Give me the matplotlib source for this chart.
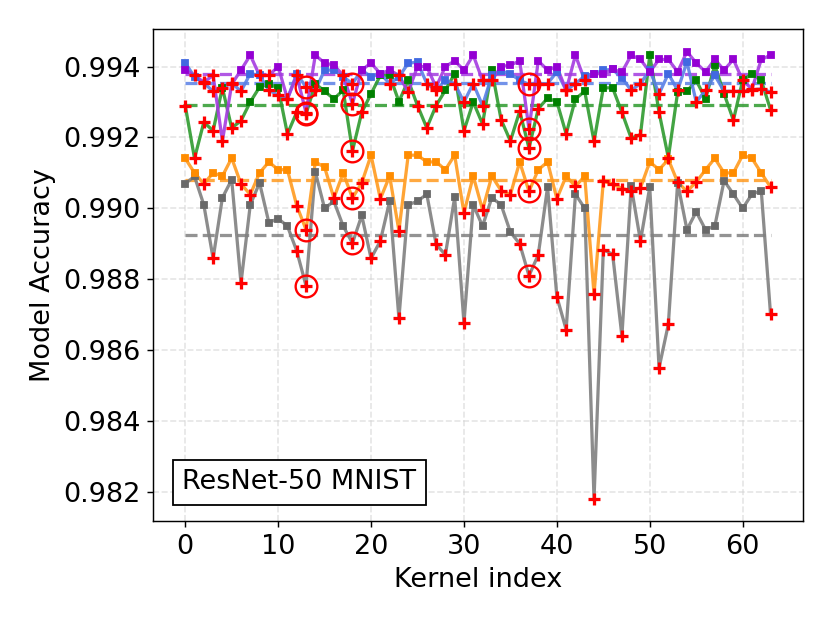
import numpy as np
import matplotlib
matplotlib.use('Agg')
import matplotlib.pyplot as plt

kernel_idx = np.arange(64)

# accuracy per kernel
acc_gray = [0.9907, 0.9909, 0.9901, 0.98859, 0.9903, 0.99081, 0.98789, 0.9901, 0.99072, 0.9896,
            0.98971, 0.9895, 0.9888, 0.98782, 0.99103, 0.9900, 0.9902, 0.9895, 0.98902, 0.9898,
            0.98859, 0.98908, 0.9902, 0.9869, 0.9901, 0.9902, 0.9904, 0.98899, 0.98869, 0.99031,
            0.98677, 0.9901, 0.9895, 0.9903, 0.9901, 0.98933, 0.9890, 0.9881, 0.98869, 0.9906,
            0.98751, 0.98658, 0.9904, 0.9900, 0.9818, 0.98883, 0.98871, 0.9864, 0.99062, 0.98908,
            0.9906, 0.9855, 0.98673, 0.99072, 0.9894, 0.9899, 0.9894, 0.9895, 0.99078, 0.9904,
            0.9900, 0.9904, 0.9905, 0.98701]
acc_orange = [0.99141, 0.9910, 0.99069, 0.9910, 0.99091, 0.99142, 0.99069, 0.99039, 0.9910, 0.99131,
              0.99109, 0.99109, 0.99008, 0.9894, 0.99131, 0.99116, 0.99029, 0.9910, 0.99029, 0.99072,
              0.9915, 0.99027, 0.99091, 0.98937, 0.9915, 0.9915, 0.99131, 0.99131, 0.99109, 0.9915,
              0.98987, 0.99091, 0.98996, 0.99091, 0.9905, 0.99039, 0.99131, 0.99048, 0.99109, 0.99131,
              0.99027, 0.99091, 0.99062, 0.99091, 0.98758, 0.99076, 0.99069, 0.99056, 0.9905, 0.99058,
              0.99131, 0.99109, 0.99138, 0.99074, 0.99048, 0.99074, 0.99109, 0.99141, 0.9910, 0.9910,
              0.9915, 0.99141, 0.9910, 0.9906]
acc_green = [0.9929, 0.99141, 0.99243, 0.99219, 0.9934, 0.99227, 0.99247, 0.9930, 0.99342, 0.9935,
             0.9934, 0.9921, 0.99271, 0.99266, 0.99352, 0.9933, 0.99309, 0.99333, 0.99162, 0.99271,
             0.99323, 0.99375, 0.99375, 0.99301, 0.99361, 0.9929, 0.99227, 0.9929, 0.99333, 0.9938,
             0.99219, 0.9930, 0.99238, 0.99391, 0.9925, 0.9919, 0.99274, 0.9917, 0.99281, 0.99311,
             0.99301, 0.9921, 0.99309, 0.9933, 0.99189, 0.9934, 0.9934, 0.99271, 0.99198, 0.99208,
             0.99432, 0.99271, 0.99143, 0.99328, 0.9933, 0.99361, 0.99309, 0.99404, 0.99323, 0.99249,
             0.99361, 0.9938, 0.99361, 0.99278]
acc_blue = [0.9941, 0.99371, 0.99354, 0.9933, 0.9934, 0.99354, 0.9933, 0.9938, 0.99375, 0.99333,
            0.9932, 0.99309, 0.9938, 0.99342, 0.99333, 0.9939, 0.9939, 0.99371, 0.99352, 0.9939,
            0.99371, 0.9938, 0.99352, 0.99371, 0.99409, 0.99413, 0.99352, 0.99333, 0.99361, 0.99352,
            0.9930, 0.99352, 0.9929, 0.99375, 0.99387, 0.9938, 0.99361, 0.9935, 0.99352, 0.99352,
            0.99385, 0.99333, 0.99352, 0.99373, 0.9938, 0.9939, 0.99392, 0.99368, 0.99333, 0.99352,
            0.9939, 0.99323, 0.9938, 0.99333, 0.99413, 0.9930, 0.99333, 0.99375, 0.9933, 0.9933,
            0.9933, 0.99334, 0.99337, 0.99328]
acc_purple = [0.9939, 0.99375, 0.99356, 0.99375, 0.9919, 0.9935, 0.9939, 0.99432, 0.99375, 0.99375,
              0.9940, 0.99309, 0.99375, 0.9927, 0.99432, 0.9941, 0.99404, 0.99375, 0.99295, 0.9939,
              0.9941, 0.9938, 0.9939, 0.99375, 0.99328, 0.9940, 0.9940, 0.99342, 0.9940, 0.99416,
              0.9939, 0.99432, 0.99361, 0.99361, 0.9940, 0.99404, 0.99416, 0.99224, 0.99416, 0.9939,
              0.9940, 0.99333, 0.99432, 0.99361, 0.9938, 0.9938, 0.99392, 0.99384, 0.99432, 0.9942,
              0.99385, 0.9942, 0.9942, 0.99385, 0.99442, 0.9941, 0.99385, 0.9942, 0.9939, 0.9942,
              0.99361, 0.99337, 0.9942, 0.99432]

# dashed reference level of each series
base_gray = 0.98924
base_orange = 0.99079
base_green = 0.99292
base_blue = 0.99355
base_purple = 0.9938

circled = [13, 18, 37]

series = [
    (acc_gray, base_gray, 'gray', 'dimgray'),
    (acc_orange, base_orange, '#ff9a1f', 'darkorange'),
    (acc_green, base_green, '#2e9a2e', 'green'),
    (acc_blue, base_blue, '#5a80e6', 'royalblue'),
    (acc_purple, base_purple, '#a43be0', 'darkviolet'),
]

plt.rcParams['font.family'] = 'DejaVu Sans'
fig, ax = plt.subplots(figsize=(6.4, 4.8), dpi=130)
fig.subplots_adjust(left=0.184, right=0.965, bottom=0.165, top=0.953)

for vals, base, col, mcol in series:
    vals = np.array(vals)
    ax.plot(kernel_idx, vals, color=col, linewidth=1.8, alpha=0.9, zorder=2)
    up = vals >= base
    ax.plot(kernel_idx[up], vals[up], 's', color=mcol, markersize=3.5, zorder=3)
    ax.plot(kernel_idx[~up], vals[~up], '+', color='red', markersize=7,
            markeredgewidth=1.8, zorder=4)
    ax.plot([kernel_idx[0], kernel_idx[-1]], [base, base], '--', color=col,
            linewidth=1.8, alpha=0.85, zorder=1)
    ax.plot(kernel_idx[circled], vals[circled], 'o', markerfacecolor='none',
            markeredgecolor='red', markersize=12, markeredgewidth=1.3, zorder=5)

ax.set_xlim(-3.46, 66.48)
ax.set_ylim(0.98118, 0.99505)
ax.set_yticks([0.982, 0.984, 0.986, 0.988, 0.990, 0.992, 0.994])
ax.set_xticks([0, 10, 20, 30, 40, 50, 60])
ax.tick_params(labelsize=15)
ax.set_xlabel('Kernel index', fontsize=15)
ax.set_ylabel('Model Accuracy', fontsize=15)
ax.grid(True, linestyle='--', color='lightgray', alpha=0.6, linewidth=0.9)
ax.set_axisbelow(True)

ax.text(0.045, 0.065, 'ResNet-50 MNIST', transform=ax.transAxes, fontsize=15,
        bbox=dict(boxstyle='square,pad=0.35', facecolor='white', edgecolor='black'),
        zorder=6)

plt.savefig('out.png', dpi=130)
